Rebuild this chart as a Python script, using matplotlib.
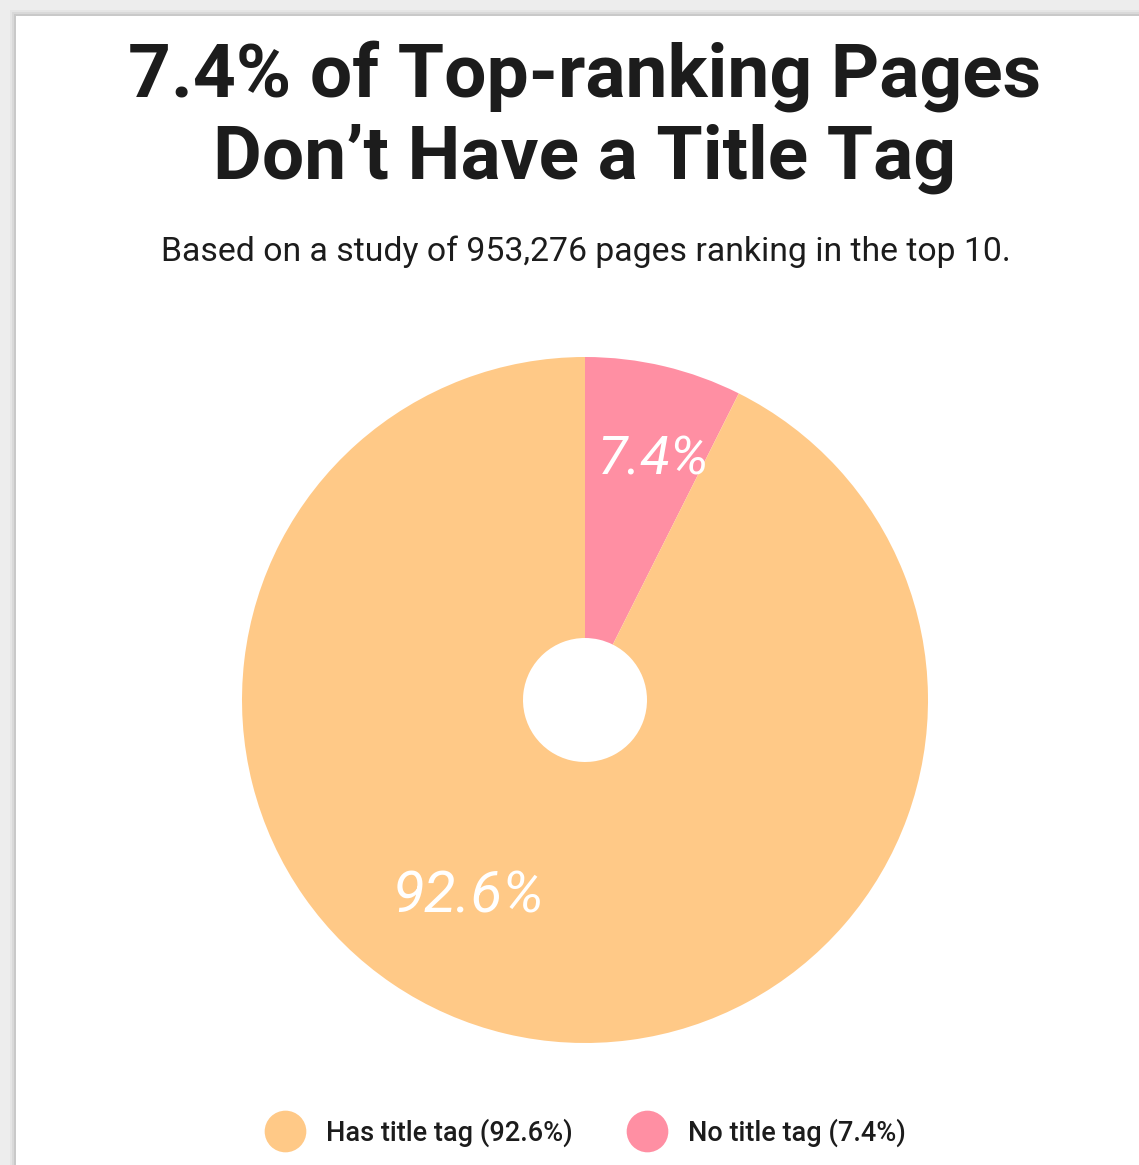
import matplotlib
matplotlib.use("Agg")
import matplotlib.pyplot as plt
from matplotlib.patches import Rectangle
from matplotlib.lines import Line2D

# data
labels = ["Has title tag", "No title tag"]
shares = [92.6, 7.4]
colors = ["#FFC987", "#FF8FA3"]

title = "7.4% of Top-ranking Pages\nDon\u2019t Have a Title Tag"
subtitle = "Based on a study of 953,276 pages ranking in the top 10."

plt.rcParams["font.family"] = ["Roboto", "DejaVu Sans"]

W, H = 1139, 1165
fig = plt.figure(figsize=(W / 100, H / 100), dpi=100)
fig.patch.set_facecolor("#ededed")

# white card with a soft shadow
for i, a in enumerate([0.03, 0.05, 0.07]):
    fig.patches.append(Rectangle((16 - 6 + 2 * i, 0), W, H - 16 + 6 - 2 * i,
                                 transform=None, facecolor="#000000",
                                 alpha=a, edgecolor="none", zorder=0))
fig.patches.append(Rectangle((16, 0), W, H - 16, transform=None,
                             facecolor="white", edgecolor="none", zorder=0))

fig.text(585 / W, 1 - 117 / H, title, ha="center", va="center",
         fontsize=54, fontweight="bold", color="#1c1c1c", linespacing=1.2,
         zorder=3)
fig.text(586 / W, 1 - 252 / H, subtitle, ha="center", va="center",
         fontsize=24.3, color="#1c1c1c", zorder=3)

# pie axes: centre (585,700), radius 343 px
cx, cy, r = 585, 700, 343
ax = fig.add_axes([(cx - r) / W, (H - cy - r) / H, 2 * r / W, 2 * r / H])
ax.set_zorder(2)
ax.patch.set_alpha(0)

wedges, _ = ax.pie(shares[::-1], colors=colors[::-1], startangle=90,
                   counterclock=False, radius=1,
                   wedgeprops=dict(width=1 - 62 / 343, edgecolor="none"))
ax.set_xlim(-1, 1)
ax.set_ylim(-1, 1)
ax.set_aspect("equal")
ax.axis("off")

ax.text(0.20, 0.70, f"{shares[1]}%", ha="center", va="center",
        fontsize=39, style="italic", color="white")
ax.text(-0.34, -0.574, f"{shares[0]}%", ha="center", va="center",
        fontsize=42, style="italic", color="white")

handles = [Line2D([], [], marker="o", linestyle="none", markersize=30,
                  markerfacecolor=c, markeredgecolor="none") for c in colors]
leg_labels = [f"{l} ({s}%)" for l, s in zip(labels, shares)]
leg = fig.legend(handles, leg_labels, loc="center", ncol=2,
                 bbox_to_anchor=(582 / W, 1 - 1133 / H), frameon=False,
                 prop=dict(size=19.5, weight="medium"), handletextpad=0.5,
                 columnspacing=1.75, labelcolor="#1c1c1c")
leg.set_zorder(3)

fig.savefig("out.png", dpi=100, facecolor=fig.get_facecolor())
